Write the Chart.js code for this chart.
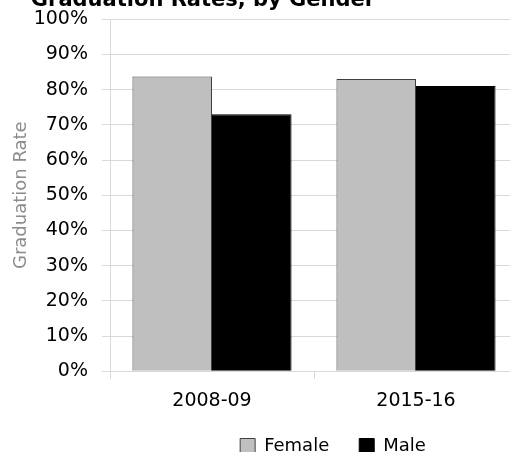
<!DOCTYPE html>
<html>
<head>
<meta charset="utf-8">
<script src="https://cdn.jsdelivr.net/npm/chart.js@4"></script>
<style>
  html, body { margin: 0; padding: 0; background: #fff; overflow: hidden; }
  #wrap { position: absolute; left: 0; top: -12px; width: 520px; height: 492px; }
</style>
</head>
<body>
<div id="wrap"><canvas id="grafico"></canvas></div>
<script>
// datos
const periodos = ["2008-09", "2015-16"];
const mujeres = [83.7, 83.0];
const hombres = [73.0, 81.0];
const ticksY = [0, 10, 20, 30, 40, 50, 60, 70, 80, 90, 100];

// mueve titulo y leyenda como en Excel
const desplazar = {
    id: "desplazar",
    afterLayout(chart) {
        chart.titleBlock.left -= 56;
        chart.titleBlock.right -= 56;
        chart.legend.left += 74;
        chart.legend.right += 74;
        chart.legend.top -= 15;
        chart.legend.bottom -= 15;
    }
};

const fuente = "DejaVu Sans";

const ctx = document.getElementById("grafico").getContext("2d");
new Chart(ctx, {
    type: "bar",
    data: {
        labels: periodos,
        datasets: [{
            label: "Female",
            data: mujeres,
            backgroundColor: "#bfbfbf",
            borderColor: "#404040",
            borderWidth: 1
        }, {
            label: "Male",
            data: hombres,
            backgroundColor: "#000000",
            borderColor: "#000000",
            borderWidth: 1
        }]
    },
    options: {
        responsive: true,
        maintainAspectRatio: false,
        animation: false,
        categoryPercentage: 0.78,
        barPercentage: 1,
        layout: { padding: { left: 0, right: 2, top: 0, bottom: 0 } },
        scales: {
            x: {
                grid: { drawOnChartArea: false, drawTicks: true, tickLength: 8, color: "#d9d9d9" },
                border: { color: "#d9d9d9" },
                ticks: { color: "#000", font: { family: fuente, size: 19 }, padding: 10 }
            },
            y: {
                min: 0,
                max: 100,
                afterFit(scale) { scale.width = 110; },
                afterBuildTicks(scale) { scale.ticks = ticksY.map(v => ({ value: v })); },
                grid: { color: "#d9d9d9", tickLength: 8 },
                border: { color: "#d9d9d9" },
                ticks: {
                    color: "#000",
                    padding: 14,
                    font: { family: fuente, size: 19 },
                    callback: v => v + "%"
                },
                title: {
                    display: true,
                    text: "Graduation Rate",
                    color: "#8c8c8c",
                    font: { family: fuente, size: 18 },
                    padding: { top: 11, bottom: 0 }
                }
            }
        },
        plugins: {
            title: {
                display: true,
                text: "Graduation Rates, by Gender",
                color: "#000",
                font: { family: fuente, size: 21, weight: "bold" },
                padding: { top: 0, bottom: 6 }
            },
            legend: {
                position: "bottom",
                labels: {
                    color: "#000",
                    boxWidth: 15,
                    boxHeight: 15,
                    padding: 30,
                    font: { family: fuente, size: 18 }
                }
            },
            tooltip: { enabled: false }
        }
    },
    plugins: [desplazar]
});
</script>
</body>
</html>
